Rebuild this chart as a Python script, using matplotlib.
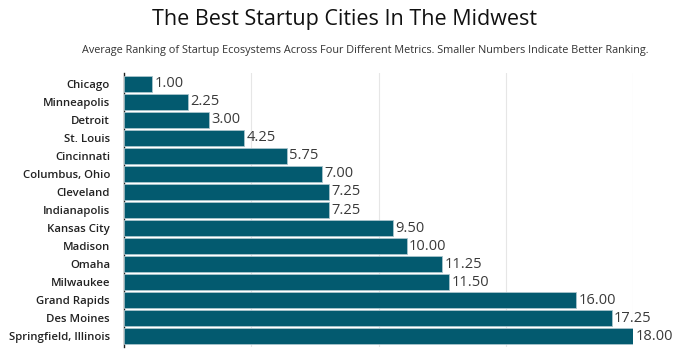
import matplotlib.pyplot as plt
import numpy as np

cities = ['Chicago', 'Minneapolis', 'Detroit', 'St. Louis', 'Cincinnati',
          'Columbus, Ohio', 'Cleveland', 'Indianapolis', 'Kansas City',
          'Madison', 'Omaha', 'Milwaukee', 'Grand Rapids', 'Des Moines',
          'Springfield, Illinois']
ranking = [1.00, 2.25, 3.00, 4.25, 5.75, 7.00, 7.25, 7.25, 9.50,
           10.00, 11.25, 11.50, 16.00, 17.25, 18.00]

title = 'The Best Startup Cities In The Midwest'
subtitle = ('Average Ranking of Startup Ecosystems Across Four Different Metrics. '
            'Smaller Numbers Indicate Better Ranking.')

plt.rcParams['font.family'] = ['Open Sans', 'DejaVu Sans']


def main():
    fig = plt.figure(figsize=(6.8, 3.55), dpi=100)
    ax = fig.add_axes([124 / 680, 8 / 355, 509 / 680, 274 / 355])

    y = np.arange(len(cities))
    ax.barh(y, ranking, height=0.9, color='#035a6f', edgecolor='#a9c4cc',
            linewidth=0.6, zorder=3)
    for yi, v in zip(y, ranking):
        ax.text(v + 0.08, yi, '{:.2f}'.format(v), va='center', ha='left',
                fontsize=10.5, color='#3a3a3a', zorder=4)

    ax.set_yticks(y)
    ax.set_yticklabels(cities, fontsize=8.2, color='#222222', fontweight='semibold')
    ax.set_ylim(len(cities) - 0.4, -0.6)
    ax.set_xlim(0, 18)
    ax.set_xticks([0, 4.5, 9, 13.5, 18])
    ax.set_xticklabels([])
    ax.tick_params(axis='both', length=0, pad=10)
    ax.grid(axis='x', color='#e6e6e6', linewidth=0.8, zorder=0)
    for s in ['top', 'right', 'bottom']:
        ax.spines[s].set_visible(False)
    ax.spines['left'].set_color('#222222')
    ax.spines['left'].set_linewidth(1.0)

    fig.text(345 / 680, 1 - 20 / 355, title, ha='center', va='center',
             fontsize=15.5, color='#111111')
    fig.text(648 / 680, 1 - 50 / 355, subtitle, ha='right', va='center',
             fontsize=7.8, color='#333333')

    fig.savefig('out.png', dpi=100)


if __name__ == '__main__':
    main()
